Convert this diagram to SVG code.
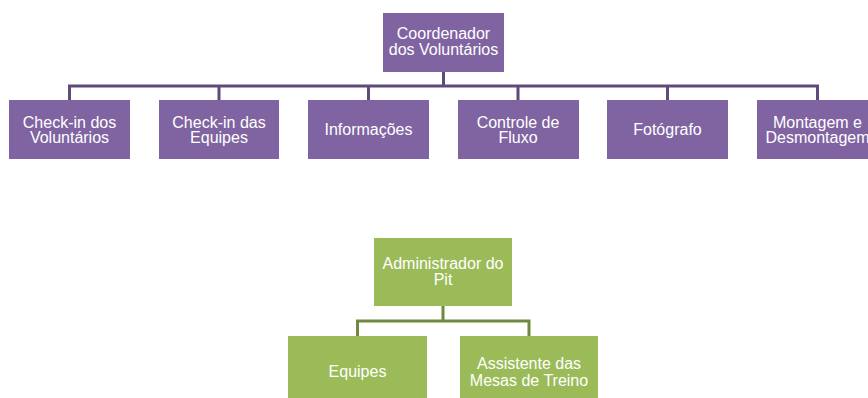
<svg xmlns="http://www.w3.org/2000/svg" width="868" height="398" viewBox="0 0 868 398">
<style>
.p{fill:#8064A2}
.g{fill:#9BBB59}
.t{font-family:"Liberation Sans",Arial,sans-serif;font-size:16px;fill:#ffffff;text-anchor:middle}
.lp{fill:none;stroke:#604A7B;stroke-width:3}
.lg{fill:none;stroke:#71893F;stroke-width:3}
</style>
<rect width="868" height="398" fill="#ffffff"/>
<g id="connectors">
<path class="lp" d="M443.5,72V86M69.5,100V86H817.5V100M219,86V100M368.5,86V100M518,86V100M667.5,86V100"/>
<path class="lg" d="M443,306V321M357.5,336V321H529V336"/>
</g>
<g id="coord"><rect class="p" x="383" y="13" width="121" height="59"/><text class="t" x="443.5" y="39">Coordenador<tspan x="443.5" y="55">dos Voluntários</tspan></text></g>
<g id="checkin-vol"><rect class="p" x="9" y="100" width="121" height="59"/><text class="t" x="69.5" y="127.5">Check-in dos<tspan x="69.5" y="143">Voluntários</tspan></text></g>
<g id="checkin-eq"><rect class="p" x="159" y="100" width="120" height="59"/><text class="t" x="219" y="127.5">Check-in das<tspan x="219" y="143">Equipes</tspan></text></g>
<g id="informacoes"><rect class="p" x="308" y="100" width="121" height="59"/><text class="t" x="368.5" y="135">Informações</text></g>
<g id="controle"><rect class="p" x="458" y="100" width="121" height="59"/><text class="t" x="518" y="127.5">Controle de<tspan x="518" y="143">Fluxo</tspan></text></g>
<g id="fotografo"><rect class="p" x="607" y="100" width="121" height="59"/><text class="t" x="667.5" y="135">Fotógrafo</text></g>
<g id="montagem"><rect class="p" x="757" y="100" width="121" height="59"/><text class="t" x="817.5" y="127.5">Montagem e<tspan x="817.5" y="143">Desmontagem</tspan></text></g>
<g id="admin"><rect class="g" x="374" y="238" width="138" height="68"/><text class="t" x="443" y="268.5">Administrador do<tspan x="443" y="285">Pit</tspan></text></g>
<g id="equipes"><rect class="g" x="288" y="336" width="139" height="62"/><text class="t" x="357.5" y="377">Equipes</text></g>
<g id="assistente"><rect class="g" x="460" y="336" width="138" height="62"/><text class="t" x="529" y="369">Assistente das<tspan x="529" y="385.5">Mesas de Treino</tspan></text></g>
</svg>
